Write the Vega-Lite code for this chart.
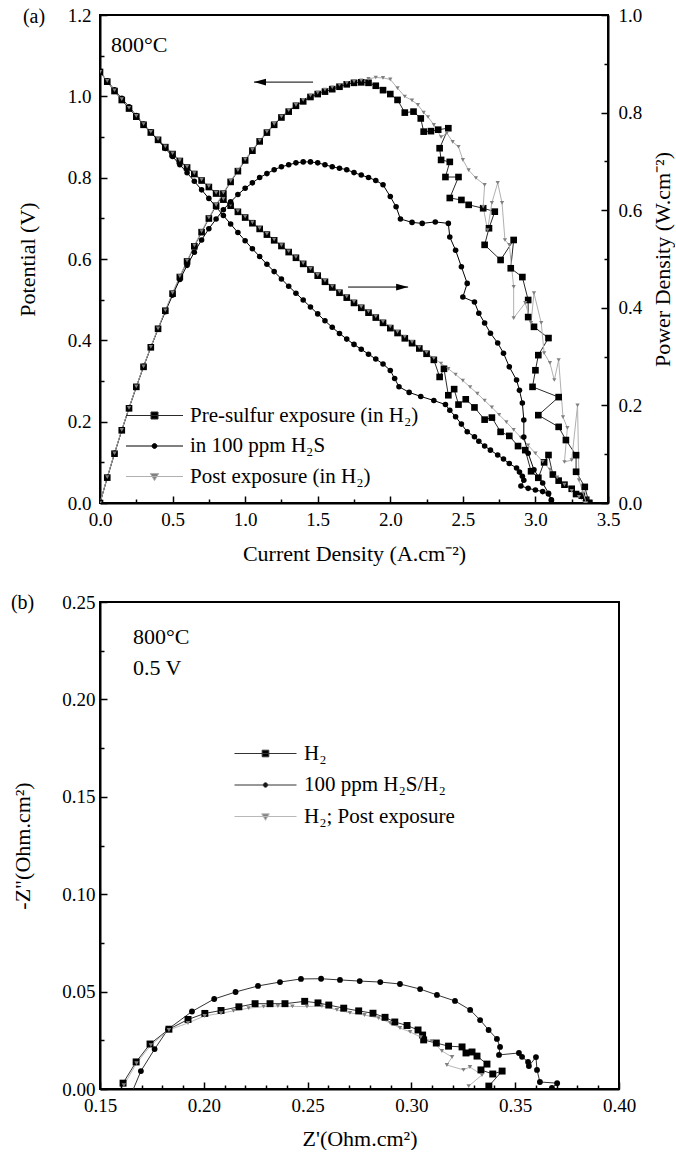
{
"$schema":"https://vega.github.io/schema/vega-lite/v6.json",
"background":"white",
"autosize":{"type":"pad"},
"padding":{"left":9,"top":5,"right":0,"bottom":0},
"bounds":"flush",
"spacing":99,
"config":{
 "font":"Liberation Serif, Times New Roman, serif",
 "view":{"stroke":"#000","strokeWidth":2},
 "axis":{"domainColor":"#000","domainWidth":2,"tickColor":"#000","tickWidth":1.5,"labelFont":"Liberation Serif, Times New Roman, serif","labelFontSize":19,"labelColor":"#000","titleFont":"Liberation Serif, Times New Roman, serif","titleFontSize":22,"titleFontWeight":"normal","titleColor":"#000","grid":false,"labelFlush":false,"labelOverlap":false},
 "legend":{"labelFont":"Liberation Serif, Times New Roman, serif","labelColor":"#000","labelLimit":600},
 "text":{"font":"Liberation Serif, Times New Roman, serif","color":"#000"}
},
"datasets":{
"av":[
{"s":"pre","x":0,"y":1.06},{"s":"pre","x":0.05,"y":1.036},{"s":"pre","x":0.1,"y":1.013},{"s":"pre","x":0.15,"y":0.991},{"s":"pre","x":0.2,"y":0.97},{"s":"pre","x":0.25,"y":0.95},{"s":"pre","x":0.3,"y":0.93},{"s":"pre","x":0.35,"y":0.911},{"s":"pre","x":0.4,"y":0.893},{"s":"pre","x":0.45,"y":0.875},{"s":"pre","x":0.5,"y":0.858},{"s":"pre","x":0.55,"y":0.841},{"s":"pre","x":0.6,"y":0.825},{"s":"pre","x":0.65,"y":0.809},{"s":"pre","x":0.7,"y":0.793},{"s":"pre","x":0.75,"y":0.777},{"s":"pre","x":0.8,"y":0.761},{"s":"pre","x":0.85,"y":0.746},{"s":"pre","x":0.9,"y":0.731},{"s":"pre","x":0.95,"y":0.716},{"s":"pre","x":1.0,"y":0.702},{"s":"pre","x":1.05,"y":0.688},{"s":"pre","x":1.1,"y":0.674},{"s":"pre","x":1.15,"y":0.66},{"s":"pre","x":1.2,"y":0.646},{"s":"pre","x":1.25,"y":0.632},{"s":"pre","x":1.3,"y":0.617},{"s":"pre","x":1.35,"y":0.603},{"s":"pre","x":1.4,"y":0.588},{"s":"pre","x":1.45,"y":0.574},{"s":"pre","x":1.5,"y":0.559},{"s":"pre","x":1.55,"y":0.544},{"s":"pre","x":1.6,"y":0.53},{"s":"pre","x":1.65,"y":0.517},{"s":"pre","x":1.7,"y":0.505},{"s":"pre","x":1.75,"y":0.492},{"s":"pre","x":1.8,"y":0.48},{"s":"pre","x":1.85,"y":0.468},{"s":"pre","x":1.9,"y":0.456},{"s":"pre","x":1.95,"y":0.443},{"s":"pre","x":2.0,"y":0.43},{"s":"pre","x":2.05,"y":0.418},{"s":"pre","x":2.1,"y":0.405},{"s":"pre","x":2.15,"y":0.393},{"s":"pre","x":2.2,"y":0.38},{"s":"pre","x":2.25,"y":0.367},{"s":"pre","x":2.3,"y":0.352},{"s":"pre","x":2.34,"y":0.31},{"s":"pre","x":2.37,"y":0.33},{"s":"pre","x":2.4,"y":0.265},{"s":"pre","x":2.44,"y":0.28},{"s":"pre","x":2.47,"y":0.242},{"s":"pre","x":2.52,"y":0.255},{"s":"pre","x":2.58,"y":0.235},{"s":"pre","x":2.65,"y":0.205},{"s":"pre","x":2.7,"y":0.21},{"s":"pre","x":2.76,"y":0.175},{"s":"pre","x":2.82,"y":0.165},{"s":"pre","x":2.88,"y":0.14},{"s":"pre","x":2.93,"y":0.13},{"s":"pre","x":2.97,"y":0.078},{"s":"pre","x":3.02,"y":0.062},{"s":"pre","x":3.06,"y":0.1},{"s":"pre","x":3.09,"y":0.118},{"s":"pre","x":3.12,"y":0.07},{"s":"pre","x":3.16,"y":0.055},{"s":"pre","x":3.2,"y":0.045},{"s":"pre","x":3.25,"y":0.035},{"s":"pre","x":3.28,"y":0.022},{"s":"pre","x":3.32,"y":0.018},{"s":"pre","x":3.35,"y":0.008},{"s":"pre","x":3.37,"y":0.0},
{"s":"h2s","x":0,"y":1.06},{"s":"h2s","x":0.05,"y":1.038},{"s":"h2s","x":0.1,"y":1.016},{"s":"h2s","x":0.15,"y":0.995},{"s":"h2s","x":0.2,"y":0.974},{"s":"h2s","x":0.25,"y":0.953},{"s":"h2s","x":0.3,"y":0.932},{"s":"h2s","x":0.35,"y":0.912},{"s":"h2s","x":0.4,"y":0.892},{"s":"h2s","x":0.45,"y":0.872},{"s":"h2s","x":0.5,"y":0.852},{"s":"h2s","x":0.55,"y":0.832},{"s":"h2s","x":0.6,"y":0.812},{"s":"h2s","x":0.65,"y":0.791},{"s":"h2s","x":0.7,"y":0.77},{"s":"h2s","x":0.75,"y":0.749},{"s":"h2s","x":0.8,"y":0.728},{"s":"h2s","x":0.85,"y":0.707},{"s":"h2s","x":0.9,"y":0.686},{"s":"h2s","x":0.95,"y":0.665},{"s":"h2s","x":1.0,"y":0.645},{"s":"h2s","x":1.05,"y":0.625},{"s":"h2s","x":1.1,"y":0.606},{"s":"h2s","x":1.15,"y":0.587},{"s":"h2s","x":1.2,"y":0.569},{"s":"h2s","x":1.25,"y":0.551},{"s":"h2s","x":1.3,"y":0.533},{"s":"h2s","x":1.35,"y":0.516},{"s":"h2s","x":1.4,"y":0.499},{"s":"h2s","x":1.45,"y":0.482},{"s":"h2s","x":1.5,"y":0.465},{"s":"h2s","x":1.55,"y":0.448},{"s":"h2s","x":1.6,"y":0.432},{"s":"h2s","x":1.65,"y":0.417},{"s":"h2s","x":1.7,"y":0.403},{"s":"h2s","x":1.75,"y":0.39},{"s":"h2s","x":1.8,"y":0.378},{"s":"h2s","x":1.85,"y":0.366},{"s":"h2s","x":1.9,"y":0.354},{"s":"h2s","x":1.95,"y":0.342},{"s":"h2s","x":2.0,"y":0.326},{"s":"h2s","x":2.03,"y":0.306},{"s":"h2s","x":2.06,"y":0.286},{"s":"h2s","x":2.13,"y":0.272},{"s":"h2s","x":2.21,"y":0.262},{"s":"h2s","x":2.3,"y":0.252},{"s":"h2s","x":2.38,"y":0.242},{"s":"h2s","x":2.41,"y":0.228},{"s":"h2s","x":2.45,"y":0.212},{"s":"h2s","x":2.49,"y":0.194},{"s":"h2s","x":2.53,"y":0.175},{"s":"h2s","x":2.58,"y":0.163},{"s":"h2s","x":2.61,"y":0.152},{"s":"h2s","x":2.65,"y":0.14},{"s":"h2s","x":2.69,"y":0.13},{"s":"h2s","x":2.74,"y":0.118},{"s":"h2s","x":2.78,"y":0.108},{"s":"h2s","x":2.82,"y":0.097},{"s":"h2s","x":2.87,"y":0.086},{"s":"h2s","x":2.89,"y":0.076},{"s":"h2s","x":2.91,"y":0.066},{"s":"h2s","x":2.92,"y":0.056},{"s":"h2s","x":2.9,"y":0.042},{"s":"h2s","x":2.95,"y":0.036},{"s":"h2s","x":3.0,"y":0.032},{"s":"h2s","x":3.05,"y":0.028},{"s":"h2s","x":3.09,"y":0.022},{"s":"h2s","x":3.11,"y":0.008},
{"s":"post","x":0,"y":1.06},{"s":"post","x":0.05,"y":1.038},{"s":"post","x":0.1,"y":1.015},{"s":"post","x":0.15,"y":0.993},{"s":"post","x":0.2,"y":0.972},{"s":"post","x":0.25,"y":0.952},{"s":"post","x":0.3,"y":0.932},{"s":"post","x":0.35,"y":0.913},{"s":"post","x":0.4,"y":0.895},{"s":"post","x":0.45,"y":0.877},{"s":"post","x":0.5,"y":0.86},{"s":"post","x":0.55,"y":0.843},{"s":"post","x":0.6,"y":0.827},{"s":"post","x":0.65,"y":0.811},{"s":"post","x":0.7,"y":0.795},{"s":"post","x":0.75,"y":0.779},{"s":"post","x":0.8,"y":0.763},{"s":"post","x":0.85,"y":0.748},{"s":"post","x":0.9,"y":0.733},{"s":"post","x":0.95,"y":0.718},{"s":"post","x":1.0,"y":0.704},{"s":"post","x":1.05,"y":0.69},{"s":"post","x":1.1,"y":0.676},{"s":"post","x":1.15,"y":0.662},{"s":"post","x":1.2,"y":0.648},{"s":"post","x":1.25,"y":0.634},{"s":"post","x":1.3,"y":0.619},{"s":"post","x":1.35,"y":0.605},{"s":"post","x":1.4,"y":0.59},{"s":"post","x":1.45,"y":0.576},{"s":"post","x":1.5,"y":0.561},{"s":"post","x":1.55,"y":0.547},{"s":"post","x":1.6,"y":0.533},{"s":"post","x":1.65,"y":0.52},{"s":"post","x":1.7,"y":0.508},{"s":"post","x":1.75,"y":0.495},{"s":"post","x":1.8,"y":0.483},{"s":"post","x":1.85,"y":0.471},{"s":"post","x":1.9,"y":0.459},{"s":"post","x":1.95,"y":0.446},{"s":"post","x":2.0,"y":0.434},{"s":"post","x":2.05,"y":0.421},{"s":"post","x":2.1,"y":0.409},{"s":"post","x":2.15,"y":0.396},{"s":"post","x":2.2,"y":0.383},{"s":"post","x":2.25,"y":0.37},{"s":"post","x":2.3,"y":0.356},{"s":"post","x":2.35,"y":0.343},{"s":"post","x":2.4,"y":0.33},{"s":"post","x":2.45,"y":0.316},{"s":"post","x":2.5,"y":0.301},{"s":"post","x":2.55,"y":0.285},{"s":"post","x":2.6,"y":0.269},{"s":"post","x":2.65,"y":0.252},{"s":"post","x":2.7,"y":0.235},{"s":"post","x":2.75,"y":0.217},{"s":"post","x":2.8,"y":0.199},{"s":"post","x":2.85,"y":0.18},{"s":"post","x":2.9,"y":0.161},{"s":"post","x":2.95,"y":0.142},{"s":"post","x":3.0,"y":0.122},{"s":"post","x":3.05,"y":0.102},{"s":"post","x":3.1,"y":0.082},{"s":"post","x":3.15,"y":0.063},{"s":"post","x":3.2,"y":0.045},{"s":"post","x":3.25,"y":0.03},{"s":"post","x":3.3,"y":0.015},{"s":"post","x":3.34,"y":0.0}
],
"ap":[
{"s":"pre","x":0,"y":0},{"s":"pre","x":0.05,"y":0.052},{"s":"pre","x":0.1,"y":0.101},{"s":"pre","x":0.15,"y":0.149},{"s":"pre","x":0.2,"y":0.194},{"s":"pre","x":0.25,"y":0.238},{"s":"pre","x":0.3,"y":0.279},{"s":"pre","x":0.35,"y":0.319},{"s":"pre","x":0.4,"y":0.357},{"s":"pre","x":0.45,"y":0.394},{"s":"pre","x":0.5,"y":0.429},{"s":"pre","x":0.55,"y":0.463},{"s":"pre","x":0.6,"y":0.495},{"s":"pre","x":0.65,"y":0.526},{"s":"pre","x":0.7,"y":0.555},{"s":"pre","x":0.75,"y":0.583},{"s":"pre","x":0.8,"y":0.609},{"s":"pre","x":0.85,"y":0.634},{"s":"pre","x":0.9,"y":0.658},{"s":"pre","x":0.95,"y":0.68},{"s":"pre","x":1.0,"y":0.702},{"s":"pre","x":1.05,"y":0.722},{"s":"pre","x":1.1,"y":0.741},{"s":"pre","x":1.15,"y":0.759},{"s":"pre","x":1.2,"y":0.775},{"s":"pre","x":1.25,"y":0.79},{"s":"pre","x":1.3,"y":0.802},{"s":"pre","x":1.35,"y":0.814},{"s":"pre","x":1.4,"y":0.823},{"s":"pre","x":1.45,"y":0.832},{"s":"pre","x":1.5,"y":0.838},{"s":"pre","x":1.55,"y":0.843},{"s":"pre","x":1.6,"y":0.848},{"s":"pre","x":1.65,"y":0.853},{"s":"pre","x":1.7,"y":0.858},{"s":"pre","x":1.75,"y":0.861},{"s":"pre","x":1.8,"y":0.862},{"s":"pre","x":1.85,"y":0.861},{"s":"pre","x":1.9,"y":0.855},{"s":"pre","x":1.95,"y":0.846},{"s":"pre","x":2.0,"y":0.838},{"s":"pre","x":2.05,"y":0.826},{"s":"pre","x":2.1,"y":0.8},{"s":"pre","x":2.16,"y":0.802},{"s":"pre","x":2.21,"y":0.788},{"s":"pre","x":2.23,"y":0.761},{"s":"pre","x":2.28,"y":0.762},{"s":"pre","x":2.33,"y":0.765},{"s":"pre","x":2.4,"y":0.768},{"s":"pre","x":2.34,"y":0.727},{"s":"pre","x":2.35,"y":0.703},{"s":"pre","x":2.41,"y":0.699},{"s":"pre","x":2.38,"y":0.668},{"s":"pre","x":2.47,"y":0.668},{"s":"pre","x":2.41,"y":0.625},{"s":"pre","x":2.49,"y":0.621},{"s":"pre","x":2.54,"y":0.611},{"s":"pre","x":2.64,"y":0.604},{"s":"pre","x":2.72,"y":0.597},{"s":"pre","x":2.68,"y":0.563},{"s":"pre","x":2.65,"y":0.529},{"s":"pre","x":2.76,"y":0.498},{"s":"pre","x":2.85,"y":0.539},{"s":"pre","x":2.83,"y":0.481},{"s":"pre","x":2.91,"y":0.463},{"s":"pre","x":2.95,"y":0.416},{"s":"pre","x":2.95,"y":0.381},{"s":"pre","x":2.99,"y":0.361},{"s":"pre","x":3.09,"y":0.338},{"s":"pre","x":3.02,"y":0.303},{"s":"pre","x":3.0,"y":0.272},{"s":"pre","x":2.98,"y":0.238},{"s":"pre","x":3.16,"y":0.217},{"s":"pre","x":3.02,"y":0.18},{"s":"pre","x":3.16,"y":0.156},{"s":"pre","x":3.21,"y":0.129},{"s":"pre","x":3.28,"y":0.098},{"s":"pre","x":3.28,"y":0.064},{"s":"pre","x":3.34,"y":0.033},{"s":"pre","x":3.37,"y":0.0},
{"s":"h2s","x":0,"y":0},{"s":"h2s","x":0.05,"y":0.052},{"s":"h2s","x":0.1,"y":0.102},{"s":"h2s","x":0.15,"y":0.149},{"s":"h2s","x":0.2,"y":0.195},{"s":"h2s","x":0.25,"y":0.238},{"s":"h2s","x":0.3,"y":0.28},{"s":"h2s","x":0.35,"y":0.319},{"s":"h2s","x":0.4,"y":0.357},{"s":"h2s","x":0.45,"y":0.392},{"s":"h2s","x":0.5,"y":0.426},{"s":"h2s","x":0.55,"y":0.458},{"s":"h2s","x":0.6,"y":0.487},{"s":"h2s","x":0.65,"y":0.514},{"s":"h2s","x":0.7,"y":0.539},{"s":"h2s","x":0.75,"y":0.562},{"s":"h2s","x":0.8,"y":0.582},{"s":"h2s","x":0.85,"y":0.601},{"s":"h2s","x":0.9,"y":0.617},{"s":"h2s","x":0.95,"y":0.632},{"s":"h2s","x":1.0,"y":0.645},{"s":"h2s","x":1.05,"y":0.656},{"s":"h2s","x":1.1,"y":0.667},{"s":"h2s","x":1.15,"y":0.675},{"s":"h2s","x":1.2,"y":0.683},{"s":"h2s","x":1.25,"y":0.689},{"s":"h2s","x":1.3,"y":0.693},{"s":"h2s","x":1.35,"y":0.697},{"s":"h2s","x":1.4,"y":0.699},{"s":"h2s","x":1.45,"y":0.699},{"s":"h2s","x":1.5,"y":0.697},{"s":"h2s","x":1.55,"y":0.693},{"s":"h2s","x":1.6,"y":0.689},{"s":"h2s","x":1.65,"y":0.686},{"s":"h2s","x":1.7,"y":0.683},{"s":"h2s","x":1.75,"y":0.677},{"s":"h2s","x":1.8,"y":0.672},{"s":"h2s","x":1.85,"y":0.667},{"s":"h2s","x":1.9,"y":0.661},{"s":"h2s","x":1.95,"y":0.652},{"s":"h2s","x":2.0,"y":0.628},{"s":"h2s","x":2.04,"y":0.607},{"s":"h2s","x":2.07,"y":0.582},{"s":"h2s","x":2.15,"y":0.575},{"s":"h2s","x":2.22,"y":0.573},{"s":"h2s","x":2.31,"y":0.576},{"s":"h2s","x":2.4,"y":0.573},{"s":"h2s","x":2.41,"y":0.545},{"s":"h2s","x":2.45,"y":0.518},{"s":"h2s","x":2.49,"y":0.484},{"s":"h2s","x":2.53,"y":0.45},{"s":"h2s","x":2.5,"y":0.422},{"s":"h2s","x":2.58,"y":0.412},{"s":"h2s","x":2.61,"y":0.389},{"s":"h2s","x":2.65,"y":0.369},{"s":"h2s","x":2.69,"y":0.348},{"s":"h2s","x":2.74,"y":0.328},{"s":"h2s","x":2.78,"y":0.307},{"s":"h2s","x":2.82,"y":0.279},{"s":"h2s","x":2.87,"y":0.252},{"s":"h2s","x":2.89,"y":0.231},{"s":"h2s","x":2.91,"y":0.205},{"s":"h2s","x":2.92,"y":0.17},{"s":"h2s","x":2.92,"y":0.135},{"s":"h2s","x":2.95,"y":0.102},{"s":"h2s","x":2.99,"y":0.068},{"s":"h2s","x":3.05,"y":0.041},{"s":"h2s","x":3.09,"y":0.02},{"s":"h2s","x":3.11,"y":0.005},
{"s":"post","x":0,"y":0},{"s":"post","x":0.05,"y":0.053},{"s":"post","x":0.1,"y":0.102},{"s":"post","x":0.15,"y":0.15},{"s":"post","x":0.2,"y":0.195},{"s":"post","x":0.25,"y":0.239},{"s":"post","x":0.3,"y":0.28},{"s":"post","x":0.35,"y":0.32},{"s":"post","x":0.4,"y":0.358},{"s":"post","x":0.45,"y":0.395},{"s":"post","x":0.5,"y":0.431},{"s":"post","x":0.55,"y":0.465},{"s":"post","x":0.6,"y":0.497},{"s":"post","x":0.65,"y":0.528},{"s":"post","x":0.7,"y":0.557},{"s":"post","x":0.75,"y":0.585},{"s":"post","x":0.8,"y":0.611},{"s":"post","x":0.85,"y":0.636},{"s":"post","x":0.9,"y":0.66},{"s":"post","x":0.95,"y":0.682},{"s":"post","x":1.0,"y":0.704},{"s":"post","x":1.05,"y":0.724},{"s":"post","x":1.1,"y":0.743},{"s":"post","x":1.15,"y":0.761},{"s":"post","x":1.2,"y":0.777},{"s":"post","x":1.25,"y":0.792},{"s":"post","x":1.3,"y":0.805},{"s":"post","x":1.35,"y":0.816},{"s":"post","x":1.4,"y":0.826},{"s":"post","x":1.45,"y":0.835},{"s":"post","x":1.5,"y":0.841},{"s":"post","x":1.55,"y":0.847},{"s":"post","x":1.6,"y":0.852},{"s":"post","x":1.65,"y":0.857},{"s":"post","x":1.7,"y":0.861},{"s":"post","x":1.75,"y":0.864},{"s":"post","x":1.8,"y":0.866},{"s":"post","x":1.85,"y":0.869},{"s":"post","x":1.9,"y":0.872},{"s":"post","x":1.95,"y":0.871},{"s":"post","x":2.0,"y":0.868},{"s":"post","x":2.05,"y":0.85},{"s":"post","x":2.1,"y":0.833},{"s":"post","x":2.15,"y":0.825},{"s":"post","x":2.19,"y":0.816},{"s":"post","x":2.23,"y":0.8},{"s":"post","x":2.26,"y":0.791},{"s":"post","x":2.3,"y":0.775},{"s":"post","x":2.35,"y":0.75},{"s":"post","x":2.39,"y":0.758},{"s":"post","x":2.43,"y":0.74},{"s":"post","x":2.47,"y":0.73},{"s":"post","x":2.5,"y":0.703},{"s":"post","x":2.54,"y":0.682},{"s":"post","x":2.59,"y":0.666},{"s":"post","x":2.65,"y":0.652},{"s":"post","x":2.64,"y":0.607},{"s":"post","x":2.67,"y":0.559},{"s":"post","x":2.7,"y":0.615},{"s":"post","x":2.74,"y":0.656},{"s":"post","x":2.77,"y":0.615},{"s":"post","x":2.79,"y":0.539},{"s":"post","x":2.82,"y":0.529},{"s":"post","x":2.85,"y":0.443},{"s":"post","x":2.85,"y":0.379},{"s":"post","x":2.93,"y":0.41},{"s":"post","x":2.97,"y":0.369},{"s":"post","x":2.99,"y":0.43},{"s":"post","x":3.04,"y":0.369},{"s":"post","x":3.06,"y":0.307},{"s":"post","x":3.1,"y":0.287},{"s":"post","x":3.13,"y":0.252},{"s":"post","x":3.16,"y":0.293},{"s":"post","x":3.19,"y":0.176},{"s":"post","x":3.22,"y":0.154},{"s":"post","x":3.2,"y":0.084},{"s":"post","x":3.25,"y":0.088},{"s":"post","x":3.29,"y":0.2},{"s":"post","x":3.3,"y":0.047},{"s":"post","x":3.33,"y":0.02},{"s":"post","x":3.35,"y":0.0}
],
"b":[
{"s":"pre","x":0.1611,"y":0.003},{"s":"pre","x":0.1674,"y":0.0139},{"s":"pre","x":0.1741,"y":0.0231},{"s":"pre","x":0.1832,"y":0.0307},{"s":"pre","x":0.1924,"y":0.0357},{"s":"pre","x":0.2005,"y":0.0388},{"s":"pre","x":0.2083,"y":0.0403},{"s":"pre","x":0.2169,"y":0.0422},{"s":"pre","x":0.2247,"y":0.0438},{"s":"pre","x":0.2319,"y":0.0438},{"s":"pre","x":0.2391,"y":0.0438},{"s":"pre","x":0.2486,"y":0.045},{"s":"pre","x":0.255,"y":0.0442},{"s":"pre","x":0.2602,"y":0.0431},{"s":"pre","x":0.2674,"y":0.0415},{"s":"pre","x":0.2746,"y":0.0401},{"s":"pre","x":0.2815,"y":0.0389},{"s":"pre","x":0.2873,"y":0.0368},{"s":"pre","x":0.292,"y":0.0344},{"s":"pre","x":0.2979,"y":0.0326},{"s":"pre","x":0.3032,"y":0.0303},{"s":"pre","x":0.3054,"y":0.0277},{"s":"pre","x":0.3059,"y":0.0252},{"s":"pre","x":0.312,"y":0.0236},{"s":"pre","x":0.3179,"y":0.022},{"s":"pre","x":0.3244,"y":0.0216},{"s":"pre","x":0.3263,"y":0.0185},{"s":"pre","x":0.3292,"y":0.019},{"s":"pre","x":0.3316,"y":0.0169},{"s":"pre","x":0.3364,"y":0.0128},{"s":"pre","x":0.3335,"y":0.0098},{"s":"pre","x":0.3392,"y":0.0077},{"s":"pre","x":0.3437,"y":0.0092},{"s":"pre","x":0.3373,"y":0.0015},
{"s":"h2s","x":0.1645,"y":-0.004},{"s":"h2s","x":0.1697,"y":0.0092},{"s":"h2s","x":0.1763,"y":0.0205},{"s":"h2s","x":0.1828,"y":0.0307},{"s":"h2s","x":0.1943,"y":0.0398},{"s":"h2s","x":0.205,"y":0.0462},{"s":"h2s","x":0.2153,"y":0.0498},{"s":"h2s","x":0.2261,"y":0.0529},{"s":"h2s","x":0.2367,"y":0.0549},{"s":"h2s","x":0.2468,"y":0.0565},{"s":"h2s","x":0.2565,"y":0.0566},{"s":"h2s","x":0.2656,"y":0.056},{"s":"h2s","x":0.2751,"y":0.0554},{"s":"h2s","x":0.285,"y":0.0549},{"s":"h2s","x":0.2945,"y":0.0539},{"s":"h2s","x":0.3042,"y":0.0513},{"s":"h2s","x":0.3123,"y":0.0483},{"s":"h2s","x":0.321,"y":0.0452},{"s":"h2s","x":0.3283,"y":0.0406},{"s":"h2s","x":0.3331,"y":0.0354},{"s":"h2s","x":0.3372,"y":0.0303},{"s":"h2s","x":0.3412,"y":0.0257},{"s":"h2s","x":0.3427,"y":0.0216},{"s":"h2s","x":0.3422,"y":0.0175},{"s":"h2s","x":0.3518,"y":0.0185},{"s":"h2s","x":0.3533,"y":0.0165},{"s":"h2s","x":0.3562,"y":0.0139},{"s":"h2s","x":0.3566,"y":0.0118},{"s":"h2s","x":0.36,"y":0.0164},{"s":"h2s","x":0.3605,"y":0.0098},{"s":"h2s","x":0.3619,"y":0.0036},{"s":"h2s","x":0.3702,"y":0.003},{"s":"h2s","x":0.3677,"y":0.0005},
{"s":"post","x":0.1615,"y":0.002},{"s":"post","x":0.1676,"y":0.0132},{"s":"post","x":0.1745,"y":0.0225},{"s":"post","x":0.1832,"y":0.0303},{"s":"post","x":0.1924,"y":0.0339},{"s":"post","x":0.2004,"y":0.0375},{"s":"post","x":0.2083,"y":0.0389},{"s":"post","x":0.2143,"y":0.0401},{"s":"post","x":0.2216,"y":0.0415},{"s":"post","x":0.2288,"y":0.0423},{"s":"post","x":0.2357,"y":0.0426},{"s":"post","x":0.2427,"y":0.0424},{"s":"post","x":0.2497,"y":0.0423},{"s":"post","x":0.2569,"y":0.0426},{"s":"post","x":0.2641,"y":0.0406},{"s":"post","x":0.2704,"y":0.0391},{"s":"post","x":0.2774,"y":0.038},{"s":"post","x":0.2842,"y":0.0364},{"s":"post","x":0.2898,"y":0.0339},{"s":"post","x":0.2945,"y":0.0313},{"s":"post","x":0.2994,"y":0.0293},{"s":"post","x":0.3045,"y":0.0266},{"s":"post","x":0.3099,"y":0.0246},{"s":"post","x":0.3147,"y":0.0195},{"s":"post","x":0.3196,"y":0.0164},{"s":"post","x":0.3171,"y":0.0123},{"s":"post","x":0.3251,"y":0.0098},{"s":"post","x":0.3282,"y":0.0113},{"s":"post","x":0.334,"y":0.0072},{"s":"post","x":0.3276,"y":0.0015}
]
},
"vconcat":[
{
"width":508,"height":488,
"resolve":{"scale":{"y":"independent","shape":"independent","fill":"independent","stroke":"independent","size":"independent"},"axis":{"x":"independent","y":"independent"}},
"layer":[
{"data":{"name":"av"},
 "mark":{"type":"line","strokeWidth":1,"clip":true},
 "encoding":{
  "x":{"field":"x","type":"quantitative","scale":{"domain":[0,3.5],"nice":false,"zero":false},"axis":{"orient":"bottom","values":[0,0.5,1,1.5,2,2.5,3,3.5],"format":".1f","tickSize":-7,"labelPadding":14,"title":"Current Density (A.cm⁻²)","titlePadding":14}},
  "y":{"field":"y","type":"quantitative","scale":{"domain":[0,1.2],"nice":false},"axis":{"orient":"left","values":[0,0.2,0.4,0.6,0.8,1,1.2],"format":".1f","tickSize":-7,"labelPadding":16,"title":"Potential (V)","titlePadding":28}},
  "stroke":{"field":"s","type":"nominal","scale":{"domain":["pre","h2s","post"],"range":["#2a2a2a","#000000","#b0b0b0"]},"legend":null},
  "order":{"value":null}
 }},
{"data":{"name":"av"},
 "mark":{"type":"point","filled":true,"opacity":1,"clip":true},
 "encoding":{
  "x":{"field":"x","type":"quantitative","axis":{"orient":"bottom","values":[0.25,0.75,1.25,1.75,2.25,2.75,3.25],"labels":false,"domain":false,"tickSize":-4,"title":null}},
  "y":{"field":"y","type":"quantitative","scale":{"domain":[0,1.2],"nice":false},"axis":{"orient":"left","values":[0.1,0.3,0.5,0.7,0.9,1.1],"labels":false,"domain":false,"tickSize":-4,"title":null}},
  "shape":{"field":"s","type":"nominal","scale":{"domain":["pre","h2s","post"],"range":["square","circle","triangle-down"]},"legend":null},
  "fill":{"field":"s","type":"nominal","scale":{"domain":["pre","h2s","post"],"range":["#000000","#000000","#808080"]},"legend":null},
  "size":{"field":"s","type":"nominal","scale":{"domain":["pre","h2s","post"],"range":[44,18,48]},"legend":null}
 }},
{"data":{"name":"ap"},
 "mark":{"type":"line","strokeWidth":1,"clip":true},
 "encoding":{
  "x":{"field":"x","type":"quantitative","axis":null},
  "y":{"field":"y","type":"quantitative","scale":{"domain":[0,1],"nice":false},"axis":{"orient":"right","values":[0,0.2,0.4,0.6,0.8,1],"format":".1f","tickSize":-7,"labelPadding":17,"title":"Power Density (W.cm⁻²)","titleAngle":270,"titleBaseline":"top","titlePadding":11}},
  "stroke":{"field":"s","type":"nominal","scale":{"domain":["pre","h2s","post"],"range":["#2a2a2a","#000000","#b0b0b0"]},"legend":null},
  "order":{"value":null}
 }},
{"data":{"name":"ap"},
 "mark":{"type":"point","filled":true,"opacity":1,"clip":true},
 "encoding":{
  "x":{"field":"x","type":"quantitative","axis":null},
  "y":{"field":"y","type":"quantitative","scale":{"domain":[0,1],"nice":false},"axis":{"orient":"right","values":[0.1,0.3,0.5,0.7,0.9],"labels":false,"domain":false,"tickSize":-4,"title":null}},
  "shape":{"field":"s","type":"nominal","scale":{"domain":["pre","h2s","post"],"range":["square","circle","triangle-down"]},"legend":null},
  "fill":{"field":"s","type":"nominal","scale":{"domain":["pre","h2s","post"],"range":["#000000","#000000","#808080"]},"legend":null},
  "size":{"field":"s","type":"nominal","scale":{"domain":["pre","h2s","post"],"range":[44,18,48]},"legend":null}
 }},
{"data":{"name":"av"},
 "mark":{"type":"point","filled":true,"opacity":0,"size":400,"strokeWidth":1},
 "encoding":{
  "x":{"field":"x","type":"quantitative","axis":null},
  "y":{"field":"y","type":"quantitative","scale":{"domain":[0,1.2],"nice":false},"axis":null},
  "shape":{"field":"s","type":"nominal","scale":{"domain":["pre","h2s","post"],"range":["M-2.85,0H2.85M-0.35,-0.35H0.35V0.35H-0.35Z","M-2.85,0H2.85M-0.24,0A0.24,0.24 0 1 0 0.24,0A0.24,0.24 0 1 0 -0.24,0Z","M-2.85,0H2.85M-0.42,-0.3H0.42L0,0.42Z"]},
   "legend":{"orient":"none","legendX":44,"legendY":390,"title":null,"padding":0,"symbolSize":400,"symbolStrokeWidth":1,"symbolOpacity":1,"labelFontSize":21,"labelOffset":25,"rowPadding":8.5,"labelLimit":600,"labelFont":"Liberation Serif, Times New Roman, serif",
    "labelExpr":"datum.value === 'pre' ? 'Pre-sulfur exposure (in H₂)' : datum.value === 'h2s' ? 'in 100 ppm H₂S' : 'Post exposure (in H₂)'"}},
  "fill":{"field":"s","type":"nominal","scale":{"domain":["pre","h2s","post"],"range":["#000000","#000000","#808080"]}},
  "stroke":{"field":"s","type":"nominal","scale":{"domain":["pre","h2s","post"],"range":["#2a2a2a","#000000","#b0b0b0"]}}
 }},
{"data":{"values":[{}]},
 "mark":{"type":"text","align":"left","baseline":"middle","fontSize":22,"font":"Liberation Serif, Times New Roman, serif"},
 "encoding":{"x":{"datum":0.076,"type":"quantitative","axis":null},"y":{"datum":1.126,"type":"quantitative","scale":{"domain":[0,1.2],"nice":false},"axis":null},"text":{"value":"800°C"}}},
{"data":{"values":[{}]},
 "mark":{"type":"text","align":"left","baseline":"middle","fontSize":20,"font":"Liberation Serif, Times New Roman, serif"},
 "encoding":{"x":{"datum":-0.531,"type":"quantitative","axis":null},"y":{"datum":1.195,"type":"quantitative","scale":{"domain":[0,1.2],"nice":false},"axis":null},"text":{"value":"(a)"}}},
{"data":{"values":[{}]},
 "mark":{"type":"rule","strokeWidth":1,"color":"#000"},
 "encoding":{"x":{"datum":1.061,"type":"quantitative","axis":null},"x2":{"datum":1.468},"y":{"datum":1.035,"type":"quantitative","scale":{"domain":[0,1.2],"nice":false},"axis":null}}},
{"data":{"values":[{}]},
 "mark":{"type":"point","filled":true,"opacity":1,"color":"#000","strokeWidth":0,"shape":"M0,0L1,-0.28L1,0.28Z","size":576},
 "encoding":{"x":{"datum":1.061,"type":"quantitative","axis":null},"y":{"datum":1.035,"type":"quantitative","scale":{"domain":[0,1.2],"nice":false},"axis":null}}},
{"data":{"values":[{}]},
 "mark":{"type":"rule","strokeWidth":1,"color":"#000"},
 "encoding":{"x":{"datum":1.709,"type":"quantitative","axis":null},"x2":{"datum":2.123},"y":{"datum":0.531,"type":"quantitative","scale":{"domain":[0,1.2],"nice":false},"axis":null}}},
{"data":{"values":[{}]},
 "mark":{"type":"point","filled":true,"opacity":1,"color":"#000","strokeWidth":0,"shape":"M0,0L-1,-0.28L-1,0.28Z","size":576},
 "encoding":{"x":{"datum":2.123,"type":"quantitative","axis":null},"y":{"datum":0.531,"type":"quantitative","scale":{"domain":[0,1.2],"nice":false},"axis":null}}}
]
},
{
"width":519,"height":487,
"resolve":{"scale":{"shape":"independent","fill":"independent","stroke":"independent","size":"independent"},"axis":{"x":"independent","y":"independent"}},
"layer":[
{"data":{"name":"b"},
 "mark":{"type":"line","strokeWidth":1,"clip":true},
 "encoding":{
  "x":{"field":"x","type":"quantitative","scale":{"domain":[0.15,0.4],"nice":false,"zero":false},"axis":{"orient":"bottom","values":[0.15,0.2,0.25,0.3,0.35,0.4],"format":".2f","tickSize":-7,"labelPadding":14,"title":"Z'(Ohm.cm²)","titlePadding":13}},
  "y":{"field":"y","type":"quantitative","scale":{"domain":[0,0.25],"nice":false},"axis":{"orient":"left","values":[0,0.05,0.1,0.15,0.2,0.25],"format":".2f","tickSize":-7,"labelPadding":12,"title":"-Z\"(Ohm.cm²)","titlePadding":27}},
  "stroke":{"field":"s","type":"nominal","scale":{"domain":["pre","h2s","post"],"range":["#333333","#333333","#b8b8b8"]},"legend":null},
  "order":{"value":null}
 }},
{"data":{"name":"b"},
 "mark":{"type":"point","filled":true,"opacity":1,"clip":true},
 "encoding":{
  "x":{"field":"x","type":"quantitative","axis":{"orient":"bottom","values":[0.16,0.17,0.18,0.19,0.21,0.22,0.23,0.24,0.26,0.27,0.28,0.29,0.31,0.32,0.33,0.34,0.36,0.37,0.38,0.39],"labels":false,"domain":false,"tickSize":-4,"title":null}},
  "y":{"field":"y","type":"quantitative","axis":{"orient":"left","values":[0.025,0.075,0.125,0.175,0.225],"labels":false,"domain":false,"tickSize":-4,"title":null}},
  "shape":{"field":"s","type":"nominal","scale":{"domain":["pre","h2s","post"],"range":["square","circle","triangle-down"]},"legend":null},
  "fill":{"field":"s","type":"nominal","scale":{"domain":["pre","h2s","post"],"range":["#000000","#000000","#808080"]},"legend":null},
  "size":{"field":"s","type":"nominal","scale":{"domain":["pre","h2s","post"],"range":[48,20,42]},"legend":null}
 }},
{"data":{"name":"b"},
 "mark":{"type":"point","filled":true,"opacity":0,"size":400,"strokeWidth":1},
 "encoding":{
  "x":{"field":"x","type":"quantitative","axis":null},
  "y":{"field":"y","type":"quantitative","axis":null},
  "shape":{"field":"s","type":"nominal","scale":{"domain":["pre","h2s","post"],"range":["M-3.1,0H3.1M-0.33,-0.33H0.33V0.33H-0.33Z","M-3.1,0H3.1M-0.22,0A0.22,0.22 0 1 0 0.22,0A0.22,0.22 0 1 0 -0.22,0Z","M-3.1,0H3.1M-0.38,-0.27H0.38L0,0.38Z"]},
   "legend":{"orient":"none","legendX":155,"legendY":141,"title":null,"padding":0,"symbolSize":400,"symbolStrokeWidth":1,"symbolOpacity":1,"labelFontSize":21,"labelOffset":28,"rowPadding":9.5,"labelLimit":600,"labelFont":"Liberation Serif, Times New Roman, serif",
    "labelExpr":"datum.value === 'pre' ? 'H₂' : datum.value === 'h2s' ? '100 ppm H₂S/H₂' : 'H₂; Post exposure'"}},
  "fill":{"field":"s","type":"nominal","scale":{"domain":["pre","h2s","post"],"range":["#000000","#000000","#808080"]}},
  "stroke":{"field":"s","type":"nominal","scale":{"domain":["pre","h2s","post"],"range":["#333333","#333333","#b8b8b8"]}}
 }},
{"data":{"values":[{}]},
 "mark":{"type":"text","align":"left","baseline":"middle","fontSize":22,"font":"Liberation Serif, Times New Roman, serif"},
 "encoding":{"x":{"datum":0.1659,"type":"quantitative","axis":null},"y":{"datum":0.232,"type":"quantitative","axis":null},"text":{"value":"800°C"}}},
{"data":{"values":[{}]},
 "mark":{"type":"text","align":"left","baseline":"middle","fontSize":22,"font":"Liberation Serif, Times New Roman, serif"},
 "encoding":{"x":{"datum":0.1659,"type":"quantitative","axis":null},"y":{"datum":0.216,"type":"quantitative","axis":null},"text":{"value":"0.5 V"}}},
{"data":{"values":[{}]},
 "mark":{"type":"text","align":"left","baseline":"middle","fontSize":20,"font":"Liberation Serif, Times New Roman, serif"},
 "encoding":{"x":{"datum":0.1071,"type":"quantitative","axis":null},"y":{"datum":0.2495,"type":"quantitative","axis":null},"text":{"value":"(b)"}}}
]
}
]
}
